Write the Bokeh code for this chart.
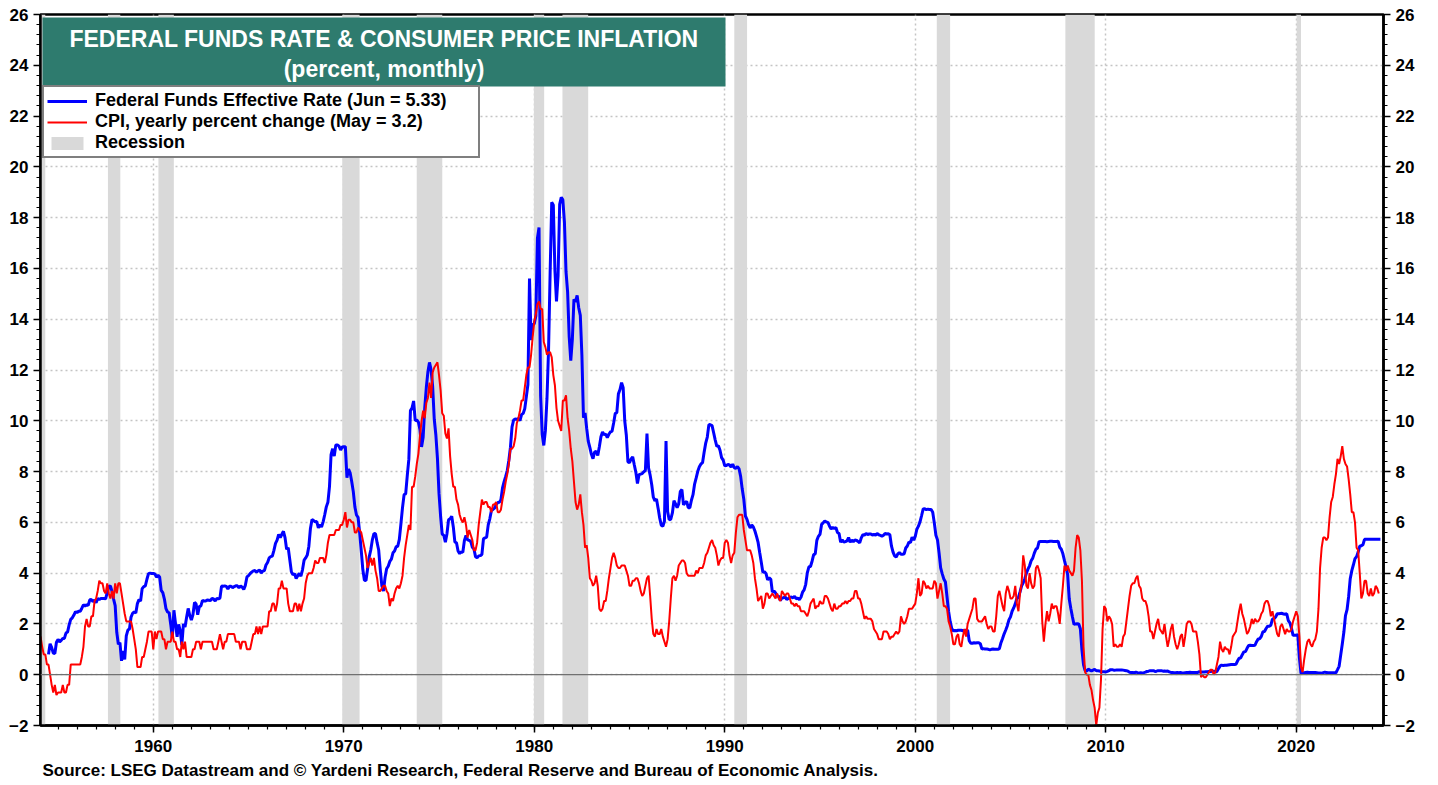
import numpy as np
from bokeh.plotting import figure
from bokeh.models import (Range1d, LinearAxis, SingleIntervalTicker, Span, Label,
                          Legend, LegendItem, Title)
from bokeh.embed import file_html
from bokeh.resources import INLINE

# ---------------- data ----------------
fed_funds_start = 1954.5   # Jul 1954, monthly
fed_funds = [
    0.80, 1.22, 1.07, 0.85, 0.83, 1.28,
    1.39, 1.29, 1.35, 1.43, 1.43, 1.64, 1.68, 1.96, 2.18, 2.24, 2.35, 2.48,
    2.45, 2.50, 2.50, 2.62, 2.75, 2.71, 2.75, 2.73, 2.95, 2.96, 2.88, 2.94,
    2.84, 3.00, 2.96, 3.00, 3.00, 3.00, 2.99, 3.24, 3.47, 3.50, 3.28, 2.98,
    2.72, 1.67, 1.20, 1.26, 0.55, 0.93, 0.60, 1.53, 1.76, 1.80, 2.27, 2.42,
    2.48, 2.43, 2.80, 2.96, 2.90, 3.39, 3.47, 3.50, 3.76, 3.98, 4.00, 3.99,
    3.99, 3.97, 3.84, 3.92, 3.85, 3.32, 3.23, 2.98, 2.60, 2.47, 2.44, 1.98,
    1.45, 2.54, 2.02, 1.49, 1.98, 1.73, 1.17, 2.00, 1.88, 2.26, 2.61, 2.33,
    2.15, 2.37, 2.85, 2.78, 2.36, 2.68, 2.71, 2.93, 2.90, 2.90, 2.94, 2.93,
    2.92, 3.00, 2.98, 2.90, 3.00, 2.99, 3.02, 3.49, 3.48, 3.50, 3.48, 3.38,
    3.48, 3.48, 3.43, 3.47, 3.50, 3.50, 3.42, 3.50, 3.45, 3.36, 3.52, 3.85,
    3.90, 3.98, 4.04, 4.09, 4.10, 4.04, 4.09, 4.12, 4.01, 4.08, 4.10, 4.32,
    4.42, 4.60, 4.65, 4.67, 4.90, 5.17, 5.30, 5.53, 5.40, 5.53, 5.65, 5.40,
    4.94, 5.00, 4.53, 4.05, 3.94, 3.98, 3.79, 3.90, 3.99, 3.88, 4.13, 4.51,
    4.60, 4.71, 5.05, 5.76, 6.11, 6.07, 6.02, 6.03, 5.78, 5.91, 5.82, 6.02,
    6.30, 6.61, 6.79, 7.41, 8.67, 8.90, 8.61, 9.05, 9.05, 9.00, 8.85, 8.97,
    8.98, 8.98, 7.76, 8.10, 7.95, 7.61, 7.21, 6.61, 6.29, 6.20, 5.60, 4.90,
    4.14, 3.72, 3.71, 4.16, 4.63, 4.91, 5.31, 5.56, 5.55, 5.20, 4.91, 4.14,
    3.50, 3.29, 3.83, 4.17, 4.27, 4.46, 4.55, 4.80, 4.87, 5.04, 5.06, 5.33,
    5.94, 6.58, 7.09, 7.12, 7.84, 8.49, 10.40, 10.50, 10.78, 10.01, 10.03, 9.95,
    9.65, 8.97, 9.35, 10.51, 11.31, 11.93, 12.30, 12.01, 11.34, 10.06, 9.45, 8.53,
    7.13, 6.24, 5.54, 5.49, 5.22, 5.55, 6.10, 6.14, 6.24, 5.82, 5.22, 5.20,
    4.87, 4.77, 4.84, 4.82, 5.29, 5.48, 5.31, 5.29, 5.25, 5.02, 4.95, 4.65,
    4.61, 4.68, 4.69, 4.73, 5.35, 5.39, 5.42, 5.90, 6.14, 6.47, 6.51, 6.56,
    6.70, 6.78, 6.79, 6.89, 7.36, 7.60, 7.81, 8.04, 8.45, 8.96, 9.76, 10.03,
    10.07, 10.06, 10.09, 10.01, 10.24, 10.29, 10.47, 10.94, 11.43, 15.60, 13.18, 13.78,
    13.82, 14.13, 17.19, 17.61, 10.98, 9.47, 9.03, 9.61, 10.87, 12.81, 15.85, 18.60,
    18.50, 15.93, 14.70, 15.72, 18.52, 18.80, 18.70, 17.82, 15.87, 15.08, 13.31, 12.37,
    13.22, 14.78, 14.68, 14.94, 14.45, 14.15, 12.59, 10.12, 10.31, 9.71, 9.20, 8.95,
    8.68, 8.51, 8.77, 8.80, 8.63, 8.98, 9.37, 9.56, 9.45, 9.48, 9.34, 9.47,
    9.56, 9.59, 9.91, 10.29, 10.32, 11.06, 11.23, 11.50, 11.30, 9.99, 9.43, 8.38,
    8.35, 8.50, 8.58, 8.27, 7.97, 7.53, 7.88, 7.90, 7.92, 7.99, 8.05, 9.50,
    8.14, 7.86, 7.48, 6.99, 6.85, 6.92, 6.56, 6.17, 5.89, 5.85, 6.04, 9.20,
    6.43, 6.10, 6.13, 6.37, 6.85, 6.73, 6.58, 6.73, 7.22, 7.29, 6.69, 6.77,
    6.83, 6.58, 6.58, 6.87, 7.09, 7.51, 7.75, 8.01, 8.19, 8.30, 8.35, 8.76,
    9.12, 9.36, 9.85, 9.84, 9.81, 9.53, 9.24, 8.99, 9.02, 8.84, 8.55, 8.45,
    8.23, 8.24, 8.28, 8.26, 8.18, 8.29, 8.15, 8.13, 8.20, 8.11, 7.81, 7.31,
    6.91, 6.25, 6.12, 5.91, 5.78, 5.90, 5.82, 5.66, 5.45, 5.21, 4.81, 4.43,
    4.03, 4.06, 3.98, 3.73, 3.82, 3.76, 3.25, 3.30, 3.22, 3.10, 3.09, 2.92,
    3.02, 3.03, 3.07, 2.96, 3.00, 3.04, 3.06, 3.03, 3.09, 2.99, 3.02, 2.96,
    3.05, 3.25, 3.34, 3.56, 4.01, 4.25, 4.26, 4.47, 4.73, 4.76, 5.29, 5.45,
    5.53, 5.92, 5.98, 6.05, 6.01, 6.00, 5.85, 5.74, 5.80, 5.76, 5.80, 5.60,
    5.56, 5.22, 5.31, 5.22, 5.24, 5.27, 5.40, 5.22, 5.30, 5.24, 5.31, 5.29,
    5.25, 5.19, 5.39, 5.51, 5.50, 5.56, 5.52, 5.54, 5.54, 5.50, 5.52, 5.50,
    5.56, 5.51, 5.49, 5.45, 5.49, 5.56, 5.54, 5.55, 5.51, 5.07, 4.83, 4.68,
    4.63, 4.76, 4.81, 4.74, 4.74, 4.76, 4.99, 5.07, 5.22, 5.20, 5.42, 5.30,
    5.45, 5.73, 5.85, 6.02, 6.27, 6.53, 6.54, 6.50, 6.52, 6.51, 6.51, 6.40,
    5.98, 5.49, 5.31, 4.80, 4.21, 3.97, 3.77, 3.65, 3.07, 2.49, 2.09, 1.82,
    1.73, 1.74, 1.73, 1.75, 1.75, 1.75, 1.73, 1.74, 1.75, 1.75, 1.34, 1.24,
    1.24, 1.26, 1.25, 1.26, 1.26, 1.22, 1.01, 1.03, 1.01, 1.01, 1.00, 0.98,
    1.00, 1.01, 1.00, 1.00, 1.00, 1.03, 1.26, 1.43, 1.61, 1.76, 1.93, 2.16,
    2.28, 2.50, 2.63, 2.79, 3.00, 3.04, 3.26, 3.50, 3.62, 3.78, 4.00, 4.16,
    4.29, 4.49, 4.59, 4.79, 4.94, 4.99, 5.24, 5.25, 5.25, 5.25, 5.25, 5.24,
    5.25, 5.26, 5.26, 5.25, 5.25, 5.25, 5.26, 5.02, 4.94, 4.76, 4.49, 4.24,
    3.94, 2.98, 2.61, 2.28, 1.98, 2.00, 2.01, 2.00, 1.81, 0.97, 0.39, 0.16,
    0.15, 0.22, 0.18, 0.15, 0.18, 0.21, 0.16, 0.16, 0.15, 0.12, 0.12, 0.12,
    0.11, 0.13, 0.16, 0.20, 0.20, 0.18, 0.18, 0.19, 0.19, 0.19, 0.19, 0.18,
    0.17, 0.16, 0.14, 0.10, 0.09, 0.09, 0.07, 0.10, 0.08, 0.07, 0.08, 0.07,
    0.08, 0.10, 0.13, 0.14, 0.16, 0.16, 0.16, 0.13, 0.14, 0.16, 0.16, 0.16,
    0.14, 0.15, 0.14, 0.15, 0.11, 0.09, 0.09, 0.08, 0.08, 0.09, 0.08, 0.09,
    0.07, 0.07, 0.08, 0.09, 0.09, 0.10, 0.09, 0.09, 0.09, 0.09, 0.09, 0.12,
    0.11, 0.11, 0.11, 0.12, 0.12, 0.13, 0.13, 0.14, 0.14, 0.12, 0.12, 0.24,
    0.34, 0.38, 0.36, 0.37, 0.37, 0.38, 0.39, 0.40, 0.40, 0.40, 0.41, 0.54,
    0.65, 0.66, 0.79, 0.90, 0.91, 1.04, 1.15, 1.16, 1.15, 1.15, 1.16, 1.30,
    1.41, 1.42, 1.51, 1.69, 1.70, 1.82, 1.91, 1.91, 1.95, 2.19, 2.20, 2.27,
    2.40, 2.40, 2.41, 2.42, 2.39, 2.38, 2.40, 2.13, 2.04, 1.83, 1.55, 1.55,
    1.55, 1.58, 0.65, 0.05, 0.05, 0.08, 0.09, 0.10, 0.09, 0.09, 0.09, 0.09,
    0.09, 0.08, 0.07, 0.07, 0.06, 0.08, 0.10, 0.09, 0.08, 0.08, 0.08, 0.08,
    0.08, 0.08, 0.20, 0.33, 0.77, 1.21, 1.68, 2.33, 2.56, 3.08, 3.78, 4.10,
    4.33, 4.57, 4.65, 4.83, 5.06, 5.08, 5.12, 5.33, 5.33, 5.33, 5.33, 5.33,
    5.33, 5.33, 5.33, 5.33, 5.33, 5.33,
]

cpi_start = 1954.0   # Jan 1954, monthly
cpi_yoy = [
    1.5, 1.5, 1.1, 0.8, 0.8, 0.4, 0.4, 0.0, -0.4, -0.7, -0.4, -0.8,
    -0.7, -0.7, -0.7, -0.4, -0.7, -0.7, -0.4, -0.4, 0.4, 0.4, 0.4, 0.4,
    0.4, 0.4, 0.4, 0.7, 1.1, 1.9, 2.2, 1.9, 1.9, 2.3, 2.3, 2.9,
    3.0, 3.3, 3.7, 3.6, 3.6, 3.3, 3.2, 3.6, 3.2, 3.0, 3.3, 3.0,
    3.6, 3.2, 3.6, 3.6, 3.2, 2.8, 2.4, 2.1, 2.1, 2.1, 2.1, 1.8,
    1.4, 1.0, 0.3, 0.3, 0.3, 0.7, 0.7, 1.0, 1.3, 1.7, 1.7, 1.7,
    1.0, 1.7, 1.4, 1.7, 1.7, 1.7, 1.4, 1.4, 1.0, 1.3, 1.3, 1.3,
    1.7, 1.3, 1.3, 1.0, 1.0, 0.7, 1.3, 1.0, 1.3, 0.7, 0.7, 0.7,
    0.7, 1.0, 1.0, 1.3, 1.3, 1.3, 1.0, 1.3, 1.3, 1.3, 1.3, 1.3,
    1.3, 1.3, 1.0, 1.0, 1.0, 1.3, 1.6, 1.3, 1.0, 1.3, 1.3, 1.6,
    1.6, 1.6, 1.6, 1.6, 1.3, 1.3, 1.3, 1.0, 1.3, 1.3, 1.3, 1.0,
    1.0, 1.0, 1.3, 1.6, 1.6, 1.9, 1.6, 1.9, 1.6, 1.9, 1.9, 1.9,
    1.9, 2.5, 2.5, 2.8, 2.8, 2.5, 2.8, 3.4, 3.4, 3.7, 3.4, 3.4,
    3.4, 2.8, 2.5, 2.5, 2.5, 2.8, 2.8, 2.5, 2.8, 2.5, 2.8, 3.0,
    3.6, 3.9, 4.0, 4.0, 4.0, 4.2, 4.5, 4.4, 4.4, 4.6, 4.6, 4.6,
    4.4, 4.7, 5.2, 5.5, 5.5, 5.5, 5.5, 5.7, 5.7, 5.7, 5.9, 5.9,
    6.1, 6.4, 5.8, 6.1, 6.1, 6.0, 6.0, 5.6, 5.6, 5.8, 5.7, 5.6,
    5.3, 5.0, 4.7, 4.2, 4.4, 4.6, 4.3, 4.6, 4.1, 3.8, 3.3, 3.3,
    3.4, 3.5, 3.5, 3.3, 3.2, 2.7, 3.0, 2.9, 3.2, 3.4, 3.5, 3.4,
    3.6, 3.9, 4.6, 5.1, 5.5, 5.9, 5.7, 7.4, 7.4, 7.8, 8.3, 8.7,
    9.4, 10.0, 10.4, 10.1, 10.7, 10.9, 11.5, 10.9, 11.9, 12.1, 12.2, 12.3,
    11.8, 11.2, 10.3, 10.2, 9.5, 9.3, 9.7, 8.6, 7.9, 7.4, 7.4, 6.9,
    6.7, 6.3, 6.1, 6.0, 6.2, 5.9, 5.4, 5.7, 5.5, 5.3, 4.9, 4.9,
    5.2, 5.9, 6.4, 6.9, 6.7, 6.8, 6.8, 6.6, 6.6, 6.4, 6.7, 6.7,
    6.8, 6.4, 6.4, 6.5, 6.9, 7.2, 7.6, 7.9, 8.3, 8.9, 8.9, 9.0,
    9.3, 9.9, 10.1, 10.4, 10.8, 10.8, 11.3, 11.8, 12.1, 12.1, 12.6, 13.3,
    13.9, 14.2, 14.6, 14.7, 14.4, 14.4, 13.1, 12.9, 12.6, 12.7, 12.7, 12.5,
    11.8, 11.4, 10.5, 10.0, 9.8, 9.6, 10.8, 10.8, 11.0, 10.1, 9.6, 8.9,
    8.4, 7.6, 6.8, 6.5, 6.7, 7.1, 6.4, 5.9, 5.0, 5.1, 4.6, 3.8,
    3.7, 3.5, 3.6, 3.9, 3.5, 2.6, 2.5, 2.6, 2.9, 2.9, 3.3, 3.8,
    4.2, 4.6, 4.8, 4.6, 4.3, 4.2, 4.2, 4.3, 4.3, 4.3, 4.1, 3.9,
    3.5, 3.5, 3.7, 3.7, 3.8, 3.8, 3.6, 3.3, 3.1, 3.2, 3.5, 3.8,
    3.9, 3.1, 2.2, 1.6, 1.5, 1.8, 1.6, 1.6, 1.8, 1.5, 1.3, 1.1,
    1.4, 2.1, 3.0, 3.8, 3.9, 3.7, 3.9, 4.3, 4.4, 4.5, 4.5, 4.4,
    4.0, 3.9, 3.9, 3.9, 3.9, 3.9, 4.1, 4.0, 4.2, 4.2, 4.2, 4.4,
    4.7, 4.8, 5.0, 5.2, 5.3, 5.1, 5.0, 4.7, 4.3, 4.5, 4.6, 4.6,
    5.2, 5.3, 5.2, 4.7, 4.4, 4.7, 4.8, 5.6, 6.2, 6.3, 6.3, 6.3,
    5.7, 5.3, 4.9, 4.9, 4.9, 4.7, 4.4, 3.8, 3.4, 2.9, 3.0, 3.1,
    2.6, 2.8, 3.2, 3.2, 3.0, 3.1, 3.2, 3.1, 3.0, 3.2, 3.0, 2.9,
    3.3, 3.2, 3.1, 3.2, 3.2, 3.0, 2.8, 2.8, 2.7, 2.8, 2.7, 2.7,
    2.5, 2.5, 2.5, 2.4, 2.3, 2.5, 2.8, 2.9, 3.0, 2.6, 2.7, 2.7,
    2.9, 2.8, 2.8, 3.1, 3.1, 3.0, 2.8, 2.6, 2.5, 2.8, 2.6, 2.6,
    2.7, 2.7, 2.8, 2.8, 2.9, 2.8, 2.9, 2.9, 3.0, 3.0, 3.3, 3.3,
    3.0, 3.0, 2.8, 2.5, 2.2, 2.3, 2.2, 2.2, 2.2, 2.1, 1.8, 1.7,
    1.6, 1.4, 1.4, 1.4, 1.7, 1.7, 1.7, 1.6, 1.4, 1.5, 1.5, 1.6,
    1.7, 1.6, 1.7, 2.3, 2.1, 2.0, 2.1, 2.3, 2.6, 2.6, 2.6, 2.7,
    2.8, 3.2, 3.8, 3.1, 3.2, 3.7, 3.6, 3.4, 3.5, 3.4, 3.4, 3.4,
    3.7, 3.6, 3.0, 3.3, 3.6, 3.2, 2.7, 2.7, 2.6, 2.1, 1.9, 1.6,
    1.2, 1.2, 1.5, 1.6, 1.2, 1.1, 1.5, 1.8, 1.5, 2.0, 2.2, 2.4,
    2.6, 3.0, 3.0, 2.2, 2.1, 2.1, 2.1, 2.2, 2.3, 2.0, 1.8, 1.9,
    1.9, 1.7, 1.7, 2.3, 3.1, 3.3, 3.0, 2.7, 2.5, 3.2, 3.5, 3.3,
    3.0, 3.0, 3.1, 3.5, 2.8, 2.5, 3.2, 3.6, 4.7, 4.3, 3.5, 3.4,
    4.0, 3.6, 3.4, 3.5, 4.2, 4.3, 4.1, 3.8, 2.1, 1.3, 2.0, 2.5,
    2.1, 2.4, 2.8, 2.6, 2.7, 2.7, 2.4, 2.0, 2.8, 3.5, 4.3, 4.1,
    4.3, 4.1, 4.0, 3.9, 4.1, 5.0, 5.5, 5.4, 4.9, 3.7, 1.1, 0.1,
    0.0, 0.0, -0.4, -0.6, -1.0, -1.3, -2.0, -1.5, -1.3, -0.2, 1.8, 2.7,
    2.6, 2.1, 2.3, 2.2, 2.0, 1.1, 1.2, 1.1, 1.1, 1.2, 1.1, 1.5,
    1.6, 2.1, 2.6, 3.1, 3.5, 3.6, 3.6, 3.8, 3.9, 3.5, 3.4, 3.0,
    2.9, 2.9, 2.7, 2.3, 1.7, 1.7, 1.4, 1.7, 2.0, 2.2, 1.8, 1.7,
    1.6, 2.0, 1.5, 1.1, 1.4, 1.8, 2.0, 1.5, 1.2, 1.0, 1.2, 1.5,
    1.6, 1.1, 1.5, 2.0, 2.1, 2.1, 2.0, 1.7, 1.7, 1.7, 1.3, 0.8,
    -0.1, 0.0, -0.1, -0.1, 0.0, 0.1, 0.2, 0.2, 0.0, 0.1, 0.4, 0.7,
    1.3, 1.0, 0.9, 1.1, 1.0, 1.0, 0.8, 1.1, 1.5, 1.6, 1.7, 2.1,
    2.5, 2.8, 2.4, 2.2, 1.9, 1.6, 1.7, 1.9, 2.2, 2.0, 2.2, 2.1,
    2.1, 2.2, 2.4, 2.5, 2.8, 2.9, 2.9, 2.7, 2.3, 2.5, 2.2, 1.9,
    1.6, 1.5, 1.9, 2.0, 1.8, 1.6, 1.8, 1.7, 1.7, 1.8, 2.1, 2.3,
    2.5, 2.3, 1.5, 0.3, 0.1, 0.6, 1.0, 1.3, 1.4, 1.2, 1.1, 1.3,
    1.4, 1.7, 2.6, 4.2, 5.0, 5.4, 5.4, 5.3, 5.4, 6.2, 6.8, 7.0,
    7.5, 7.9, 8.5, 8.3, 8.6, 9.0, 8.5, 8.3, 8.2, 7.7, 7.1, 6.4,
    6.4, 6.0, 5.0, 4.9, 4.0, 3.0, 3.2, 3.7, 3.7, 3.2, 3.1, 3.4,
    3.1, 3.2, 3.5, 3.4, 3.2,
]

recession_start = [1953.50, 1957.62, 1960.27, 1969.92, 1973.83, 1979.98, 1981.48, 1990.50, 2001.13, 2007.88, 2020.02]
recession_end   = [1954.33, 1958.27, 1961.08, 1970.83, 1975.17, 1980.52, 1982.83, 1991.17, 2001.83, 2009.42, 2020.25]

title_line1 = "FEDERAL FUNDS RATE & CONSUMER PRICE INFLATION"
title_line2 = "(percent, monthly)"
fed_label = "Federal Funds Effective Rate (Jun = 5.33)"
cpi_label = "CPI, yearly percent change (May = 3.2)"
rec_label = "Recession"
source_text = ("Source: LSEG Datastream and \u00a9 Yardeni Research, Federal Reserve "
               "and Bureau of Economic Analysis.")

# ---------------- layout constants ----------------
FONT = "Liberation Sans"
X0, X1 = 1954.08, 2024.58
Y0, Y1 = -2, 26
FW, FH = 1343, 711          # frame size in px

ff_x = fed_funds_start + np.arange(len(fed_funds)) / 12.0
cpi_x = cpi_start + np.arange(len(cpi_yoy)) / 12.0

p = figure(width=1438, height=785, x_range=Range1d(X0, X1), y_range=Range1d(Y0, Y1),
           output_backend="svg", toolbar_location=None,
           min_border_left=40, min_border_right=55, min_border_top=14, min_border_bottom=60,
           background_fill_color="white", border_fill_color="white")
p.outline_line_color = "black"
p.outline_line_width = 2.5

# recessions
rec_r = p.quad(left=recession_start, right=recession_end, bottom=Y0, top=Y1,
               fill_color="#D9D9D9", line_color=None)

# zero line
p.add_layout(Span(location=0, dimension="width", line_color="#707070", line_width=1.3))

# series
ff_r = p.line(ff_x, fed_funds, line_color="#0000FF", line_width=3)
cpi_r = p.line(cpi_x, cpi_yoy, line_color="#FF0000", line_width=2)

# axes
def style_axis(ax, ticker):
    ax.ticker = ticker
    ax.axis_line_color = "black"
    ax.axis_line_width = 2.5
    ax.major_tick_line_color = "black"
    ax.major_tick_line_width = 1.5
    ax.major_tick_out = 7
    ax.major_tick_in = 0
    ax.minor_tick_line_color = "black"
    ax.minor_tick_line_width = 1.2
    ax.minor_tick_out = 4
    ax.minor_tick_in = 0
    ax.major_label_text_font = FONT
    ax.major_label_text_font_style = "bold"
    ax.major_label_text_font_size = "17px"
    ax.major_label_text_color = "black"
    ax.major_label_standoff = 5

yticker = SingleIntervalTicker(interval=2, num_minor_ticks=5)
xticker = SingleIntervalTicker(interval=10, num_minor_ticks=10)
style_axis(p.xaxis[0], xticker)
p.xaxis[0].major_label_standoff = 7
style_axis(p.yaxis[0], yticker)
right_axis = LinearAxis()
style_axis(right_axis, SingleIntervalTicker(interval=2, num_minor_ticks=5))
p.add_layout(right_axis, "right")

p.xgrid.ticker = xticker
p.ygrid.ticker = yticker
for g in (p.xgrid[0], p.ygrid[0]):
    g.grid_line_color = "#C4C4C4"
    g.grid_line_width = 1.5
    g.grid_line_dash = "2 3"

# title box (positions from frame top-left, in px)
sx = (X1 - X0) / FW
sy = (Y1 - Y0) / FH
box_l, box_r, box_t, box_b = 2, 685, 3, 72
p.quad(left=[X0 + box_l * sx], right=[X0 + box_r * sx],
       top=[Y1 - box_t * sy], bottom=[Y1 - box_b * sy],
       fill_color="#2E7B6E", line_color=None)
cx = X0 + (box_l + box_r) / 2 * sx
for txt, off in ((title_line1, 24), (title_line2, 54)):
    p.add_layout(Label(x=cx, y=Y1 - off * sy, text=txt, text_align="center",
                       text_baseline="middle", text_font=FONT, text_font_style="bold",
                       text_font_size="23px", text_color="white"))

# legend
legend = Legend(items=[LegendItem(label=fed_label, renderers=[ff_r]),
                       LegendItem(label=cpi_label, renderers=[cpi_r]),
                       LegendItem(label=rec_label, renderers=[rec_r])],
                location=(2, FH - 75 - 69))
legend.label_text_font = FONT
legend.label_text_font_style = "bold"
legend.label_text_font_size = "18px"
legend.label_text_color = "black"
legend.label_height = 18
legend.label_width = 380
legend.glyph_height = 16
legend.glyph_width = 40
legend.label_standoff = 8
legend.spacing = -3
legend.padding = 3
legend.margin = 0
legend.border_line_color = "black"
legend.border_line_width = 2
legend.background_fill_color = "white"
legend.background_fill_alpha = 1.0
p.add_layout(legend, "center")

# source note
p.add_layout(Title(text=source_text, align="left", offset=2, standoff=8,
                   text_font=FONT, text_font_style="bold", text_font_size="17px",
                   text_color="black"), "below")

open("out.html", "w").write(file_html(p, INLINE))
